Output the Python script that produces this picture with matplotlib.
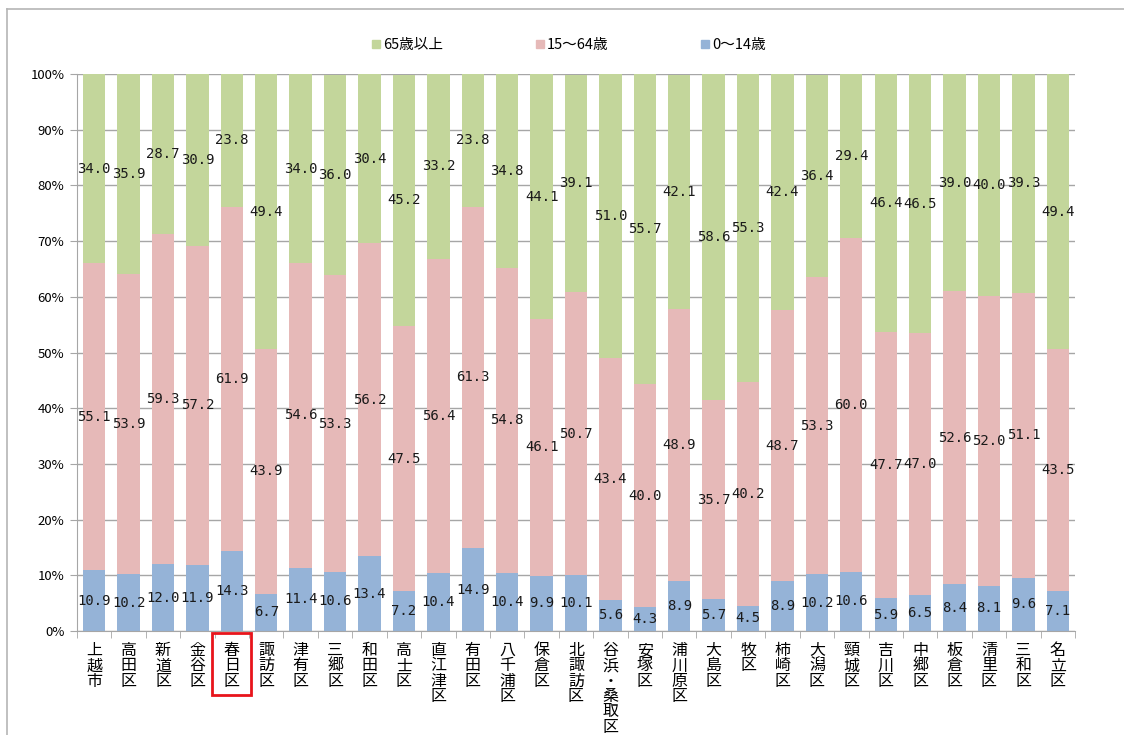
import numpy as np
import matplotlib
matplotlib.use('Agg')
import matplotlib.pyplot as plt
from matplotlib.patches import Rectangle
from matplotlib.lines import Line2D
from matplotlib.transforms import blended_transform_factory

plt.rcParams['font.family'] = ['Noto Sans CJK JP', 'DejaVu Sans']

# 地区名
districts = ['上越市', '高田区', '新道区', '金谷区', '春日区', '諏訪区', '津有区', '三郷区',
             '和田区', '高士区', '直江津区', '有田区', '八千浦区', '保倉区', '北諏訪区',
             '谷浜・桑取区', '安塚区', '浦川原区', '大島区', '牧区', '柿崎区', '大潟区',
             '頸城区', '吉川区', '中郷区', '板倉区', '清里区', '三和区', '名立区']

age_0_14 = [10.9, 10.2, 12.0, 11.9, 14.3, 6.7, 11.4, 10.6, 13.4, 7.2, 10.4, 14.9, 10.4, 9.9,
            10.1, 5.6, 4.3, 8.9, 5.7, 4.5, 8.9, 10.2, 10.6, 5.9, 6.5, 8.4, 8.1, 9.6, 7.1]
age_15_64 = [55.1, 53.9, 59.3, 57.2, 61.9, 43.9, 54.6, 53.3, 56.2, 47.5, 56.4, 61.3, 54.8, 46.1,
             50.7, 43.4, 40.0, 48.9, 35.7, 40.2, 48.7, 53.3, 60.0, 47.7, 47.0, 52.6, 52.0, 51.1, 43.5]
age_65 = [34.0, 35.9, 28.7, 30.9, 23.8, 49.4, 34.0, 36.0, 30.4, 45.2, 33.2, 23.8, 34.8, 44.1,
          39.1, 51.0, 55.7, 42.1, 58.6, 55.3, 42.4, 36.4, 29.4, 46.4, 46.5, 39.0, 40.0, 39.3, 49.4]

series_names = ['65歳以上', '15～64歳', '0～14歳']
highlight = '春日区'

c_young = '#95B3D7'
c_mid = '#E6B9B8'
c_old = '#C3D69B'

fig = plt.figure(figsize=(11.24, 7.35), dpi=100)
ax = fig.add_axes([0.0685, 0.1415, 0.8879, 0.7578])

x = np.arange(len(districts))
y0 = np.array(age_0_14)
y1 = np.array(age_15_64)
y2 = np.array(age_65)
w = 0.65

b0 = ax.bar(x, y0, w, color=c_young, zorder=2)
b1 = ax.bar(x, y1, w, bottom=y0, color=c_mid, zorder=2)
b2 = ax.bar(x, y2, w, bottom=y0 + y1, color=c_old, zorder=2)

for cont, vals in [(b0, y0), (b1, y1), (b2, y2)]:
    ax.bar_label(cont, labels=[f'{v:.1f}' for v in vals], label_type='center',
                 family='DejaVu Sans Mono', fontsize=10, color='#1a1a1a')

ax.set_xlim(-0.5, len(districts) - 0.5)
ax.set_ylim(0, 100)
ax.set_yticks(np.arange(0, 101, 10))
ax.set_yticklabels([f'{t}%' for t in range(0, 101, 10)], fontsize=9.5)
ax.yaxis.grid(True, color='#a6a6a6', linewidth=1, zorder=0)
ax.set_axisbelow(True)

ax.set_xticks(x)
ax.set_xticklabels(['\n'.join(d) for d in districts], fontsize=11.5, va='top')
for t in ax.get_xticklabels():
    t.set_linespacing(0.87)
ax.tick_params(axis='x', which='major', length=0, pad=8)
ax.set_xticks(np.arange(-0.5, len(districts)), minor=True)
ax.tick_params(axis='x', which='minor', length=5, color='#a6a6a6')
ax.tick_params(axis='y', length=5, color='#a6a6a6', pad=4)

for s in ['top', 'right']:
    ax.spines[s].set_visible(False)
for s in ['left', 'bottom']:
    ax.spines[s].set_color('#a6a6a6')

# 凡例
handles = [Line2D([], [], marker='s', linestyle='none', markersize=6, color=c)
           for c in [c_old, c_mid, c_young]]
fig.legend(handles, series_names, loc='center', bbox_to_anchor=(0.506, 0.939), ncol=3,
           frameon=False, fontsize=10.5, handlelength=0.6, handletextpad=0.2,
           columnspacing=6.3)

# 春日区の枠
i = districts.index(highlight)
tr = blended_transform_factory(ax.transData, fig.transFigure)
fig.patches.append(Rectangle((i - 0.57, 0.0544), 1.13, 0.0844, transform=tr,
                             fill=False, edgecolor='#e8141b', linewidth=2))

# 外枠
fig.add_artist(Line2D([0.0062, 0.0062], [0, 0.988], color='#b5b5b5', linewidth=1.2))
fig.add_artist(Line2D([0.0062, 1.0], [0.988, 0.988], color='#b5b5b5', linewidth=1.2))

fig.savefig('out.png', dpi=100)
